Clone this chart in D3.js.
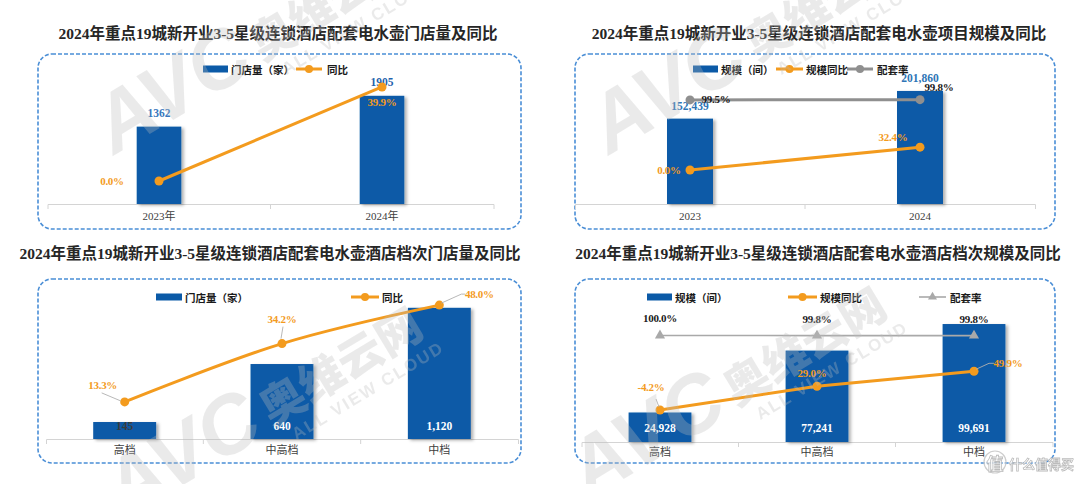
<!DOCTYPE html>
<html><head><meta charset="utf-8">
<script src="https://cdn.jsdelivr.net/npm/d3@7"></script>
<style>body{margin:0;background:#fff} svg{display:block}</style>
</head><body><svg id="c" width="1080" height="484"></svg>
<script>
// ---------------- data ----------------
const storeYears = ["2023年", "2024年"];
const storeCounts = [1362, 1905];
const storeYoy = [0.0, 39.9];

const scaleYears = ["2023", "2024"];
const roomScale = [152439, 201860];
const roomYoy = [0.0, 32.4];
const roomRate = [99.5, 99.8];

const tiers = ["高档", "中高档", "中档"];
const tierStores = [145, 640, 1120];
const tierStoreYoy = [13.3, 34.2, 48.0];

const tierRooms = [24928, 77241, 99691];
const tierRoomYoy = [-4.2, 29.0, 49.9];
const tierRoomRate = [100.0, 99.8, 99.8];

// ---------------- style ----------------
const BLUE = "#0b5aa7", ORANGE = "#f39b1e", GRAY = "#8f8f8f", LGRAY = "#a9a9a9";
const SERIF = "'Liberation Serif','Noto Sans CJK SC',serif";
const CJK = "'Noto Sans CJK SC','Noto Sans',sans-serif";
const pct = v => v.toFixed(1) + "%";

const svg = d3.select("#c");
svg.append("rect").attr("width", 1080).attr("height", 484).attr("fill", "#fff");
const defs = svg.append("defs");
const flt = defs.append("filter").attr("id", "sh").attr("x", "-20%").attr("y", "-20%").attr("width", "150%").attr("height", "140%");
flt.append("feDropShadow").attr("dx", 2.5).attr("dy", 1.5).attr("stdDeviation", 1.4)
  .attr("flood-color", "#000").attr("flood-opacity", 0.3);

const panels = [
  {
    title: "2024年重点19城新开业3-5星级连锁酒店配套电水壶门店量及同比", titleX: 278, titleY: 33,
    box: [38, 54, 521, 229], cats: storeYears, bars: storeCounts, barFmt: d3.format("d"),
    xRange: [47.5, 493.5], yRange: [204, 62], yL: [0, 2500], yR: [-9.76, 50.5], barRatio: 0.2, labelPad: 8,
    barLabel: { inside: false, dy: -14, colors: ["#3a78bd", "#1f63ad"] },
    series: [{ values: storeYoy, color: ORANGE, width: 3, marker: "circle", r: 4.5, labelColor: ORANGE, off: [[-47, 0], [0, 15]] }],
    legendY: 69,
    legend: [
      { type: "bar", x0: 203, x1: 228, tx: 231, label: "门店量（家）" },
      { type: "line", x0: 296, x1: 322, color: ORANGE, width: 3, marker: "circle", tx: 327, label: "同比" }
    ]
  },
  {
    title: "2024年重点19城新开业3-5星级连锁酒店配套电水壶项目规模及同比", titleX: 819, titleY: 33,
    box: [575, 54, 1055, 229], cats: scaleYears, bars: roomScale, barFmt: d3.format(","),
    xRange: [575, 1035], yRange: [204, 64], yL: [0, 250000], yR: [-48.2, 150.4], barRatio: 0.2, labelPad: 8,
    barLabel: { inside: false, dy: -13, colors: ["#2e75b6", "#2e75b6"] },
    series: [
      { values: roomRate, color: GRAY, width: 3, marker: "circle", r: 4.5, labelColor: "#1a1a1a", off: [[26, -1], [19, -13]] },
      { values: roomYoy, color: ORANGE, width: 3, marker: "circle", r: 4.5, labelColor: ORANGE, off: [[-21, 0], [-27, -10]] }
    ],
    legendY: 69,
    legend: [
      { type: "bar", x0: 693, x1: 718, tx: 721, label: "规模（间）" },
      { type: "line", x0: 776, x1: 803, color: ORANGE, width: 3, marker: "circle", tx: 806, label: "规模同比" },
      { type: "line", x0: 847, x1: 873, color: GRAY, width: 3, marker: "circle", tx: 877, label: "配套率" }
    ]
  },
  {
    title: "2024年重点19城新开业3-5星级连锁酒店配套电水壶酒店档次门店量及同比", titleX: 270, titleY: 253,
    box: [38, 279, 521, 463], cats: tiers, bars: tierStores, barFmt: d3.format(","),
    xRange: [46, 518], yRange: [439, 275], yL: [0, 1400], yR: [0, 58.8], barRatio: 0.4, labelPad: 7,
    barLabel: { inside: true, dy: -13, colors: ["#3c3c3c", "#fff", "#fff"] },
    series: [{
      values: tierStoreYoy, color: ORANGE, width: 3, marker: "circle", r: 4.5, labelColor: ORANGE, curve: d3.curveCatmullRom,
      off: [[-22, -17], [0, -25], [40, -11]],
      leaders: [[[-23, -9], [-4, -1]], [[1, -17], [-1, -5]], [[2, -2], [22, -11], [26, -11]]]
    }],
    legendY: 297,
    legend: [
      { type: "bar", x0: 156, x1: 182, tx: 185, label: "门店量（家）" },
      { type: "line", x0: 351, x1: 379, color: ORANGE, width: 3, marker: "circle", tx: 382, label: "同比" }
    ]
  },
  {
    title: "2024年重点19城新开业3-5星级连锁酒店配套电水壶酒店档次规模及同比", titleX: 818, titleY: 253,
    box: [575, 279, 1055, 463], cats: tiers, bars: tierRooms, barFmt: d3.format(","),
    xRange: [581.5, 1052.5], yRange: [442, 300], yL: [0, 120000], yR: [-48.95, 149.6], barRatio: 0.4, labelPad: 6,
    barLabel: { inside: true, dy: -14, colors: ["#fff", "#fff", "#fff"] },
    series: [
      { values: tierRoomRate, color: LGRAY, width: 1.6, marker: "triangle", r: 4.5, labelColor: "#1a1a1a", off: [[0, -17], [0, -17], [0, -17]] },
      {
        values: tierRoomYoy, color: ORANGE, width: 3, marker: "circle", r: 4.5, labelColor: ORANGE,
        off: [[-9, -23], [-5, -13], [34, -8]],
        leaders: [[[-4, -11], [-1, -3]], null, [[2, -2], [15, -8], [20, -8]]]
      }
    ],
    legendY: 297,
    legend: [
      { type: "bar", x0: 647, x1: 672, tx: 675, label: "规模（间）" },
      { type: "line", x0: 788, x1: 817, color: ORANGE, width: 3, marker: "circle", tx: 820, label: "规模同比" },
      { type: "line", x0: 919, x1: 946, color: LGRAY, width: 1.6, marker: "triangle", tx: 950, label: "配套率" }
    ]
  }
];

function marker(sel, type, cx, cy, r, color) {
  if (type === "triangle") {
    sel.append("path").attr("d", d3.symbol(d3.symbolTriangle, r * r * 2.2)())
      .attr("transform", `translate(${cx},${cy})`).attr("fill", color);
  } else {
    sel.append("circle").attr("cx", cx).attr("cy", cy).attr("r", r).attr("fill", color);
  }
}

function drawPanel(p) {
  const g = svg.append("g");
  g.append("text").attr("x", p.titleX).attr("y", p.titleY).attr("text-anchor", "middle")
    .attr("dominant-baseline", "central").attr("fill", "#262626")
    .style("font-family", SERIF).style("font-size", "15.5px").style("font-weight", "700").text(p.title);

  const b = p.box;
  g.append("rect").attr("x", b[0]).attr("y", b[1]).attr("width", b[2] - b[0]).attr("height", b[3] - b[1])
    .attr("rx", 14).attr("fill", "none").attr("stroke", "#4a8ed6").attr("stroke-width", 1.6)
    .attr("stroke-dasharray", "4,2");

  const x = d3.scaleBand().domain(p.cats).range(p.xRange);
  const yL = d3.scaleLinear().domain(p.yL).range(p.yRange);
  const yR = d3.scaleLinear().domain(p.yR).range(p.yRange);
  const cx = c => x(c) + x.bandwidth() / 2;
  const base = p.yRange[0];
  const bw = x.bandwidth() * p.barRatio;

  // axis
  const ax = g.append("g").attr("transform", `translate(0,${base})`)
    .call(d3.axisBottom(x).tickSizeInner(0).tickSizeOuter(5).tickPadding(p.labelPad));
  ax.select(".domain").attr("stroke", "#d4d4d4");
  ax.selectAll("text").attr("fill", "#404040").style("font-family", SERIF).style("font-size", "11px");
  g.selectAll(".sep").data(p.cats.slice(1)).join("line")
    .attr("x1", c => x(c)).attr("x2", c => x(c)).attr("y1", base).attr("y2", base + 5)
    .attr("stroke", "#d4d4d4");

  // bars
  g.selectAll(".bar").data(p.cats).join("rect")
    .attr("x", c => cx(c) - bw / 2).attr("width", bw)
    .attr("y", (c, i) => yL(p.bars[i])).attr("height", (c, i) => base - yL(p.bars[i]))
    .attr("fill", BLUE).attr("filter", "url(#sh)");

  // bar labels
  g.selectAll(".bl").data(p.cats).join("text")
    .attr("x", c => cx(c))
    .attr("y", (c, i) => p.barLabel.inside ? base + p.barLabel.dy : yL(p.bars[i]) + p.barLabel.dy)
    .attr("text-anchor", "middle").attr("dominant-baseline", "central")
    .attr("fill", (c, i) => p.barLabel.colors[i])
    .style("font-family", SERIF).style("font-size", "11.5px").style("font-weight", "700")
    .text((c, i) => p.barFmt(p.bars[i]));

  // lines
  p.series.forEach(s => {
    const pts = p.cats.map((c, i) => [cx(c), yR(s.values[i])]);
    const line = d3.line().curve(s.curve || d3.curveLinear);
    g.append("path").attr("d", line(pts)).attr("fill", "none").attr("stroke", s.color)
      .attr("stroke-width", s.width).attr("stroke-linejoin", "round");
    pts.forEach(pt => marker(g, s.marker, pt[0], pt[1], s.r, s.color));
    if (s.leaders) {
      s.leaders.forEach((L, i) => {
        if (!L) return;
        g.append("path").attr("d", d3.line()(L.map(q => [pts[i][0] + q[0], pts[i][1] + q[1]])))
          .attr("fill", "none").attr("stroke", "#b0b0b0").attr("stroke-width", 0.9);
      });
    }
  });
  p.series.forEach(s => {
    p.cats.forEach((c, i) => {
      g.append("text").attr("x", cx(c) + s.off[i][0]).attr("y", yR(s.values[i]) + s.off[i][1])
        .attr("text-anchor", "middle").attr("dominant-baseline", "central").attr("fill", s.labelColor)
        .style("font-family", SERIF).style("font-size", "11px").style("font-weight", "700")
        .style("letter-spacing", "-0.3px").text(pct(s.values[i]));
    });
  });

  // legend
  const ly = p.legendY;
  p.legend.forEach(it => {
    if (it.type === "bar") {
      g.append("rect").attr("x", it.x0).attr("y", ly - 3.5).attr("width", it.x1 - it.x0).attr("height", 7).attr("fill", BLUE);
    } else {
      g.append("line").attr("x1", it.x0).attr("x2", it.x1).attr("y1", ly).attr("y2", ly)
        .attr("stroke", it.color).attr("stroke-width", it.width);
      marker(g, it.marker, (it.x0 + it.x1) / 2, ly, 4, it.color);
    }
    g.append("text").attr("x", it.tx).attr("y", ly).attr("dominant-baseline", "central").attr("fill", "#1a1a1a")
      .style("font-family", CJK).style("font-size", "10.5px").style("font-weight", "700").text(it.label);
  });
}

panels.forEach(drawPanel);

// watermarks
function watermark(x, y) {
  const w = svg.append("g").attr("transform", `translate(${x},${y}) rotate(-31)`)
    .attr("fill", "#bdbdbd").attr("opacity", 0.3).style("pointer-events", "none");
  w.append("text").attr("x", -8).attr("y", 4).attr("text-anchor", "end")
    .style("font-family", "'Liberation Sans',sans-serif").style("font-size", "82px")
    .style("font-weight", "700").style("font-style", "italic").text("AVC");
  w.append("text").attr("x", 0).attr("y", 0)
    .style("font-family", CJK).style("font-size", "45px").style("font-weight", "900").text("奥维云网");
  w.append("text").attr("x", 14).attr("y", 24)
    .style("font-family", "'Liberation Sans',sans-serif").style("font-size", "17px").style("font-weight", "700")
    .style("letter-spacing", "2px").text("ALL VIEW CLOUD");
}
watermark(262, 62);
watermark(757, 62);
watermark(272, 427);
watermark(736, 407);

// 什么值得买 mark
const sm = svg.append("g").attr("opacity", 0.9);
sm.append("circle").attr("cx", 995).attr("cy", 462).attr("r", 11).attr("fill", "none").attr("stroke", "#c8c8c8").attr("stroke-width", 1.2);
sm.append("text").attr("x", 995).attr("y", 462).attr("text-anchor", "middle").attr("dominant-baseline", "central")
  .attr("fill", "#fff").attr("stroke", "#b5b5b5").attr("stroke-width", 0.8)
  .style("font-family", CJK).style("font-size", "17px").style("font-weight", "700").text("值");
sm.append("text").attr("x", 1009).attr("y", 463).attr("dominant-baseline", "central")
  .attr("fill", "#fff").attr("stroke", "#b5b5b5").attr("stroke-width", 0.8)
  .style("font-family", CJK).style("font-size", "13px").style("font-weight", "700").text("什么值得买");
</script>
</body></html>
